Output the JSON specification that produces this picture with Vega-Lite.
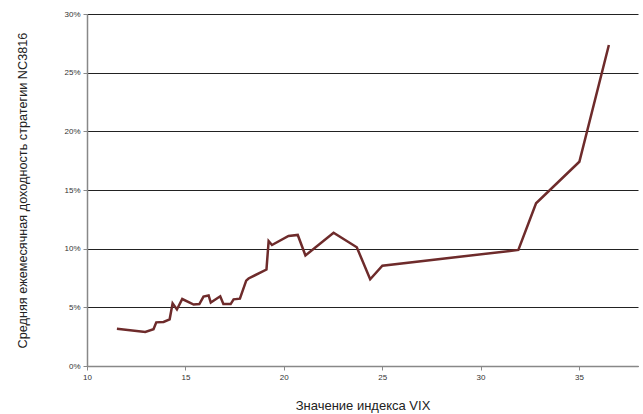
{
  "$schema": "https://vega.github.io/schema/vega-lite/v6.json",
  "width": 551,
  "height": 352,
  "autosize": {"type": "none"},
  "padding": {"left": 87, "top": 14, "right": 5, "bottom": 48},
  "background": "white",
  "config": {"view": {"stroke": null}, "font": "Liberation Sans"},
  "data": {"values": [
    {"vix": 11.52, "ret": 3.18},
    {"vix": 12.96, "ret": 2.90},
    {"vix": 13.38, "ret": 3.13},
    {"vix": 13.52, "ret": 3.72},
    {"vix": 13.89, "ret": 3.75},
    {"vix": 14.20, "ret": 3.98},
    {"vix": 14.35, "ret": 5.34},
    {"vix": 14.57, "ret": 4.82},
    {"vix": 14.84, "ret": 5.71},
    {"vix": 15.42, "ret": 5.24},
    {"vix": 15.71, "ret": 5.28},
    {"vix": 15.92, "ret": 5.92},
    {"vix": 16.18, "ret": 6.01},
    {"vix": 16.29, "ret": 5.41},
    {"vix": 16.77, "ret": 5.94},
    {"vix": 16.93, "ret": 5.28},
    {"vix": 17.30, "ret": 5.28},
    {"vix": 17.45, "ret": 5.68},
    {"vix": 17.77, "ret": 5.74},
    {"vix": 18.09, "ret": 7.27},
    {"vix": 18.21, "ret": 7.46},
    {"vix": 19.12, "ret": 8.22},
    {"vix": 19.23, "ret": 10.65},
    {"vix": 19.40, "ret": 10.31},
    {"vix": 20.24, "ret": 11.08},
    {"vix": 20.71, "ret": 11.17},
    {"vix": 21.10, "ret": 9.42},
    {"vix": 22.53, "ret": 11.36},
    {"vix": 23.71, "ret": 10.12},
    {"vix": 24.39, "ret": 7.39},
    {"vix": 25.01, "ret": 8.55},
    {"vix": 31.92, "ret": 9.89},
    {"vix": 32.82, "ret": 13.87},
    {"vix": 35.02, "ret": 17.41},
    {"vix": 36.52, "ret": 27.36}
  ]},
  "transform": [{"calculate": "datum.ret / 100", "as": "r"}],
  "mark": {"type": "line", "color": "#6E2B2B", "strokeWidth": 2.5, "strokeJoin": "miter"},
  "encoding": {
    "x": {
      "field": "vix", "type": "quantitative",
      "scale": {"domain": [10, 38], "nice": false, "zero": false},
      "axis": {
        "values": [10, 15, 20, 25, 30, 35],
        "title": "Значение индекса VIX",
        "titleFont": "Liberation Sans", "titleFontSize": 13, "titleFontWeight": "normal", "titleColor": "#222222",
        "titlePadding": 18,
        "labelFontSize": 8, "labelColor": "#333333", "labelPadding": 3,
        "labelFlush": false,
        "grid": false,
        "domainColor": "#888888", "domainWidth": 1.5,
        "tickColor": "#888888", "tickSize": 4, "tickOffset": 0
      }
    },
    "y": {
      "field": "r", "type": "quantitative",
      "scale": {"domain": [0, 0.3], "nice": false},
      "axis": {
        "values": [0, 0.05, 0.1, 0.15, 0.2, 0.25, 0.3],
        "format": ".0%",
        "title": "Средняя ежемесячная доходность стратегии NC3816",
        "titleFont": "Liberation Sans", "titleFontSize": 12.7, "titleFontWeight": "normal", "titleColor": "#222222",
        "titlePadding": 34,
        "labelFontSize": 8, "labelColor": "#333333", "labelPadding": 3,
        "labelFlush": false,
        "grid": true, "gridColor": "#222222", "gridWidth": 1,
        "domainColor": "#888888", "domainWidth": 1.5,
        "tickColor": "#888888", "tickSize": 4
      }
    }
  }
}
